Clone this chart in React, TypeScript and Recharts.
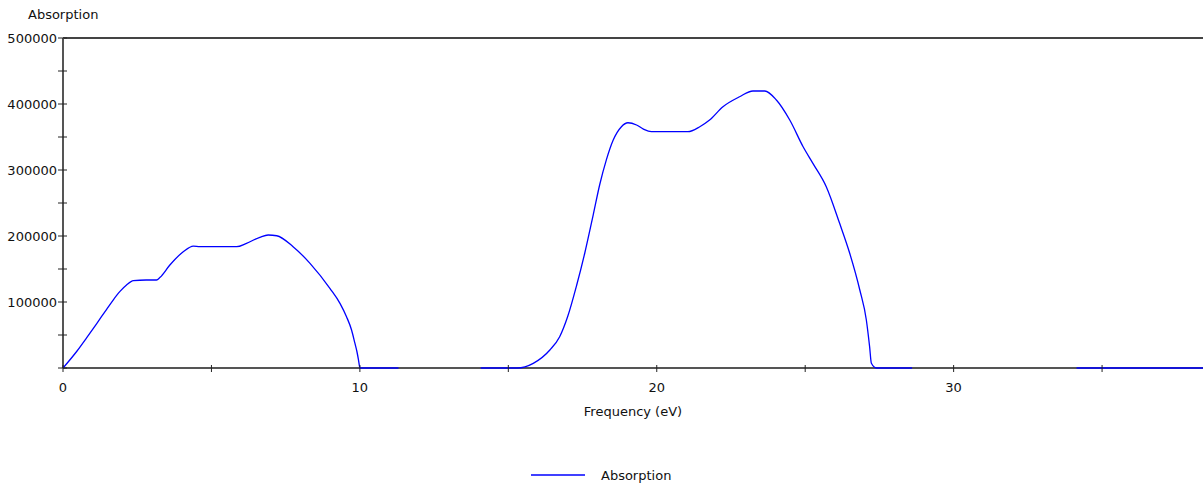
import React from 'react';
import { LineChart, Line, XAxis, YAxis, Legend, ReferenceLine } from 'recharts';

// Frequency (eV) and absorption values
const frequency: number[] = [
  0, 0.46, 0.8, 1.13, 1.47, 1.69, 1.92, 2.14, 2.37, 2.8, 3.15, 3.27, 3.6, 4.05, 4.39, 4.61,
  5.2, 5.85, 6.18, 6.63, 6.91, 7.2, 7.75, 8.32, 8.99, 9.33, 9.55, 9.72, 9.83, 9.9, 9.95,
  9.99, 10.0, 11.3,
  12.5,
  14.07, 15.3, 15.84, 16.4, 16.73, 17.0, 17.3, 17.58, 17.86, 18.08, 18.3, 18.53, 18.81,
  19.03, 19.32, 19.55, 19.82, 20.4, 21.05, 21.45, 21.78, 22.23, 22.79, 23.24, 23.64, 24.03,
  24.48, 24.93, 25.26, 25.71, 26.16, 26.5, 26.84, 27.06, 27.17, 27.23, 27.4, 28.6,
  31.0,
  34.14, 38.4,
];
const absorption: (number | null)[] = [
  0, 25000, 46000, 67000, 89000, 103000, 116000, 125700, 132300, 133300, 133300, 137400,
  156000, 176200, 184800, 183800, 183800, 183800, 188900, 198000, 201500, 200400, 183800,
  158600, 120700, 98000, 77700, 57600, 38000, 25000, 13000,
  2000, 0, 0,
  null,
  0, 0, 7100, 27300, 47400, 78000, 125000, 175000, 232000, 278000, 315000, 345000, 365600,
  371600, 368200, 362000, 358000, 358000, 358000, 365600, 375700, 395900, 411000, 419700,
  419700, 406000, 375700, 335300, 310100, 274700, 219200, 173800, 118200, 72700, 32300,
  7100, 0, 0,
  null,
  0, 0,
];
const xTicks: number[] = [0, 5, 10, 15, 20, 25, 30, 35];
const xLabelled: number[] = [0, 10, 20, 30];
const yTicks: number[] = [0, 50000, 100000, 150000, 200000, 250000, 300000, 350000, 400000, 450000, 500000];
const yLabelled: number[] = [100000, 200000, 300000, 400000, 500000];

const data = frequency.map((f, i) => ({ f, v: absorption[i] }));

const FONT = '"DejaVu Sans", sans-serif';
const AXIS = '#555555';
const TEXT = '#111111';

const YTick = (props: any) => {
  const { x, y, payload } = props;
  const show = yLabelled.includes(payload.value);
  return (
    <g>
      <line x1={x - 5} x2={x + 4} y1={y} y2={y} stroke="#222" strokeWidth={1} />
      {show && (
        <text x={x - 6} y={y + 5} textAnchor="end" fontFamily={FONT} fontSize={13} fill={TEXT}>
          {payload.value}
        </text>
      )}
    </g>
  );
};

const XTick = (props: any) => {
  const { x, y, payload } = props;
  const show = xLabelled.includes(payload.value);
  return (
    <g>
      <line x1={x} x2={x} y1={y - 3} y2={y + 4} stroke="#222" strokeWidth={1} />
      {show && (
        <text x={x} y={y + 24} textAnchor="middle" fontFamily={FONT} fontSize={13} fill={TEXT}>
          {payload.value}
        </text>
      )}
    </g>
  );
};

const LegendContent = () => (
  <div style={{ display: 'flex', justifyContent: 'center', width: '100%' }}>
    <svg width={142} height={20}>
      <line x1={0} x2={54} y1={10} y2={10} stroke="#0000ff" strokeWidth={1.3} />
      <text x={70} y={15} fontFamily={FONT} fontSize={13} fill={TEXT}>Absorption</text>
    </svg>
  </div>
);

export default function App() {
  return (
    <div style={{ position: 'absolute', left: 0, top: 0, background: '#fff' }}>
      <LineChart
        width={1203}
        height={483}
        data={data}
        margin={{ top: 38, right: 0, bottom: 75, left: 0 }}
      >
        <XAxis
          dataKey="f"
          type="number"
          domain={[0, 38.4]}
          ticks={xTicks}
          allowDataOverflow
          height={40}
          stroke={AXIS}
          axisLine={{ stroke: AXIS, strokeWidth: 2 }}
          tickLine={false}
          tickSize={0}
          tickMargin={0}
          tick={<XTick />}
          interval={0}
          label={{
            content: (p: any) => {
              const vb = p.viewBox;
              return (
                <text x={vb.x + vb.width / 2} y={vb.y + 48} textAnchor="middle" fontFamily={FONT} fontSize={13} fill={TEXT}>
                  Frequency (eV)
                </text>
              );
            },
          }}
        />
        <YAxis
          type="number"
          domain={[0, 500000]}
          ticks={yTicks}
          width={63}
          axisLine={{ stroke: AXIS, strokeWidth: 2 }}
          tickLine={false}
          tickSize={0}
          tickMargin={0}
          tick={<YTick />}
          interval={0}
          label={{
            content: (p: any) => {
              const vb = p.viewBox;
              return (
                <text x={vb.x + 28} y={vb.y - 19} fontFamily={FONT} fontSize={13} fill={TEXT}>
                  Absorption
                </text>
              );
            },
          }}
        />
        <ReferenceLine y={500000} stroke="#444" strokeWidth={2} />
        <Line
          type="monotone"
          dataKey="v"
          name="Absorption"
          stroke="#0000ff"
          strokeWidth={1.3}
          dot={false}
          activeDot={false}
          connectNulls={false}
          isAnimationActive={false}
          {...({ zIndex: 1000 } as any)}
        />
        <Legend
          verticalAlign="middle"
          align="center"
          content={<LegendContent />}
          wrapperStyle={{ top: 465, left: 0, width: 1203 }}
        />
      </LineChart>
    </div>
  );
}
